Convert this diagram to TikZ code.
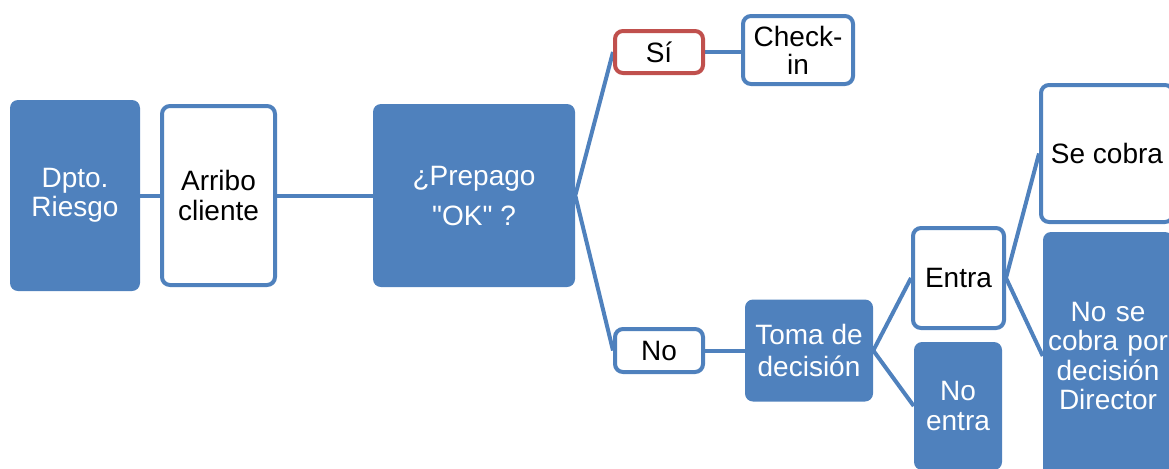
\documentclass[tikz,border=0pt]{standalone}
\usepackage{fontspec}
\setmainfont{Liberation Sans}[Ligatures=TeXOff]
\usetikzlibrary{backgrounds}
\definecolor{accent}{HTML}{4F81BD}
\definecolor{redline}{HTML}{C0504D}
\tikzset{
  sz/.style 2 args={minimum width=#1*0.75pt, minimum height=#2*0.75pt},
  base/.style={rectangle, rounded corners=6pt, align=center, inner sep=0pt,
    font=\fontsize{21pt}{22pt}\selectfont},
  filledbox/.style={base, fill=accent, text=white},
  openbox/.style={base, draw=accent, line width=3pt, fill=white, text=black},
  redbox/.style={base, draw=redline, line width=3pt, fill=white, text=black},
  link/.style={draw=accent, line width=3pt},
}
\begin{document}
\begin{tikzpicture}[x=0.75pt, y=-0.75pt]
\useasboundingbox (0,0) rectangle (1169,468);
\clip (0,0) rectangle (1169,468);
\node[filledbox, sz={130}{191}] (dpto) at (75,195.5) {Dpto.\\Riesgo};
\node[openbox, sz={113}{179}] (arribo) at (218.5,195.5) {Arribo\\cliente};
\node[filledbox, sz={202}{183}, font=\fontsize{21pt}{30pt}\selectfont] (prepago) at (474,195.5) {¿Prepago\\"OK" ?};
\node[redbox, sz={88}{42}] (si) at (659,52) {Sí};
\node[openbox, sz={110}{68}, font=\fontsize{21pt}{21pt}\selectfont] (checkin) at (798,50) {Check-\\in};
\node[openbox, sz={88}{43}] (no) at (659,350.5) {No};
\node[filledbox, sz={128}{102}, font=\fontsize{21pt}{24pt}\selectfont] (toma) at (809,350.5) {Toma de\\decisión};
\node[openbox, sz={91}{100}] (entra) at (958.5,278) {Entra};
\node[filledbox, sz={88}{128}] (noentra) at (958,406) {No\\entra};
\node[openbox, sz={132}{137}] (secobra) at (1107,153.5) {Se cobra};
\node[filledbox, sz={130}{248}, text width=128*0.75pt] (nosecobra) at (1108,356) {No se\\cobra por\\decisión\\Director};
\begin{scope}[on background layer]
\draw[link] (dpto.east) -- (arribo.west);
\draw[link] (arribo.east) -- (prepago.west);
\draw[link] (si.west) -- (prepago.east) -- (no.west);
\draw[link] (si.east) -- (si.east -| checkin.west);
\draw[link] (no.east) -- (toma.west);
\draw[link] (entra.west) -- (toma.east) -- (noentra.west);
\draw[link] (secobra.west) -- (entra.east) -- (nosecobra.west);
\end{scope}
\end{tikzpicture}
\end{document}
